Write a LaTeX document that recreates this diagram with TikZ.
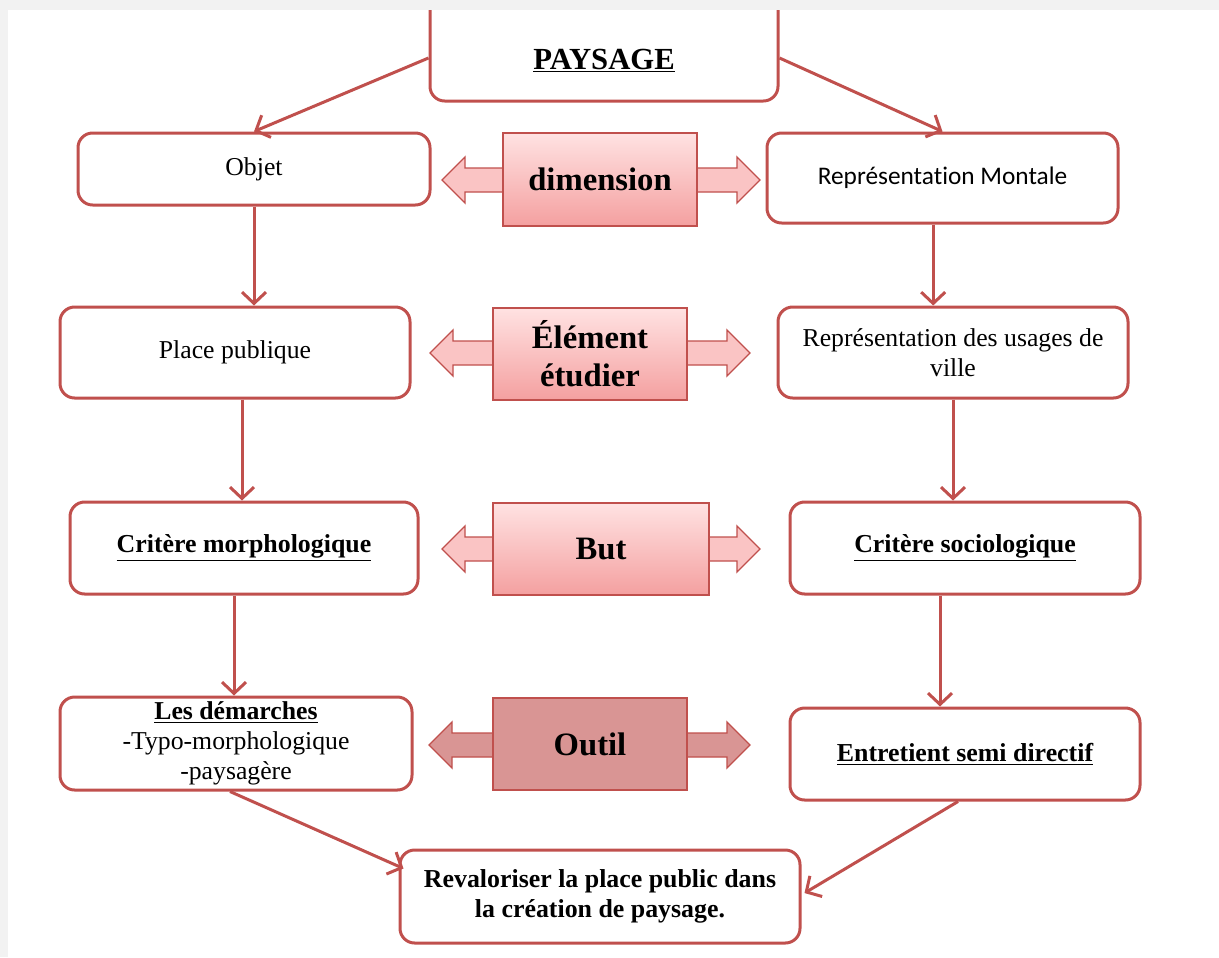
\documentclass[tikz,border=0pt]{standalone}
\usepackage{fontspec}
\setmainfont{Liberation Serif}
\newfontfamily\calibri[Ligatures=NoCommon]{Carlito}
\usetikzlibrary{arrows.meta}

\definecolor{mred}{RGB}{192, 80, 77}
\definecolor{mpin}{RGB}{250, 196, 196}
\definecolor{mtop}{RGB}{255, 226, 226}
\definecolor{mbot}{RGB}{244, 160, 160}
\definecolor{mdar}{RGB}{217, 149, 148}

\tikzset{
	box/.style={draw=mred, line width=2.25pt, rounded corners=11pt, fill=white,
			align=center, inner sep=0pt, font=\fontsize{19.3}{22.5}\selectfont},
	bbox/.style={box, font=\bfseries\fontsize{19.4}{22.5}\selectfont},
	tag/.style={draw=mred, line width=1pt, top color=mtop, bottom color=mbot,
			align=center, inner sep=0pt, font=\bfseries\fontsize{24.5}{28.5}\selectfont},
	link/.style={draw=mred, line width=2.25pt, -{Straight Barb[length=8.5pt,width=18pt]}},
}

\begin{document}
\begin{tikzpicture}[x=0.75pt, y=-0.75pt]
	\useasboundingbox (0,0) rectangle (1219,957);

	% --- Top ---
	\node[bbox, font=\bfseries\fontsize{23}{26}\selectfont, text height=36pt, text depth=0pt,
		minimum width=261pt, minimum height=84pt] (paysage) at (604,45) {\underline{PAYSAGE}};

	% --- Left column ---
	\node[box, minimum width=264pt, minimum height=54pt] (objet) at (254,169) {Objet};
	\node[box, minimum width=262.5pt, minimum height=68.25pt] (place) at (235,352.5) {Place publique};
	\node[bbox, minimum width=261pt, minimum height=69pt] (morpho) at (244,548) {\underline{Critère morphologique}};
	\node[box, minimum width=264pt, minimum height=69.75pt] (demarches) at (236,743.5)
		{\textbf{\underline{Les démarches}}\\-Typo-morphologique\\-paysagère};

	% --- Right column ---
	\node[box, font=\calibri\fontsize{19}{23}\selectfont, minimum width=263.25pt, minimum height=67.5pt]
		(montale) at (942.5,178) {Représentation Montale};
	\node[box, minimum width=262.5pt, minimum height=68.25pt] (usages) at (953,352.5)
		{Représentation des usages de\\ville};
	\node[bbox, minimum width=262.5pt, minimum height=69pt] (socio) at (965,548) {\underline{Critère sociologique}};
	\node[bbox, minimum width=262.5pt, minimum height=69pt] (entretient) at (965,754) {\underline{Entretient semi directif}};

	% --- Bottom ---
	\node[bbox, minimum width=300pt, minimum height=69.75pt] (revalor) at (600,896.5)
		{Revaloriser la place public dans\\la création de paysage.};

	% --- Double arrows ---
	\foreach \yc/\xl/\xr/\col in {180/442/760/mpin, 353/430/750/mpin, 549/442/760/mpin, 745/429/750/mdar} {
			\draw[mred, line width=1pt, fill=\col] (\xl,\yc) -- ++(23,-23) -- ++(0,11) -- (\xr-23,\yc-12)
				-- ++(0,-11) -- (\xr,\yc) -- ++(-23,23) -- ++(0,-11) -- (\xl+23,\yc+12) -- ++(0,11) -- cycle;
		}
	\node[tag, minimum width=145.5pt, minimum height=69.75pt] (dim) at (600,179.5) {dimension};
	\node[tag, minimum width=145.5pt, minimum height=69pt] (element) at (590,354) {Élément\\étudier};
	\node[tag, minimum width=162pt, minimum height=69pt] (but) at (601,549) {But};
	\node[tag, top color=mdar, bottom color=mdar, minimum width=145.5pt, minimum height=69pt]
		(outil) at (590,744) {Outil};

	% --- Links ---
	\draw[link] ([yshift=-9.75pt]paysage.west) -- (objet.north);
	\draw[link] ([yshift=-9.75pt]paysage.east) -- (montale.north);
	\draw[link] (objet.south) -- (objet.south |- place.north);
	\draw[link] ([xshift=-7pt]montale.south) -- ([xshift=-7pt]montale.south |- usages.north);
	\draw[link] ([xshift=5.25pt]place.south) -- ([xshift=5.25pt]place.south |- morpho.north);
	\draw[link] (usages.south) -- (usages.south |- socio.north);
	\draw[link] ([xshift=-7.5pt]morpho.south) -- ([xshift=-7.5pt]morpho.south |- demarches.north);
	\draw[link] ([xshift=-18.75pt]socio.south) -- ([xshift=-18.75pt]socio.south |- entretient.north);
	\draw[link] ([xshift=-4.5pt]demarches.south) -- ([xshift=3.75pt,yshift=21pt]revalor.west);
	\draw[link] ([xshift=-5.25pt]entretient.south) -- ([xshift=2.25pt,yshift=2.6pt]revalor.east);

	% --- Frame ---
	\fill[black!5] (0,0) rectangle (1219,10);
	\fill[black!5] (0,10) rectangle (8,957);

\end{tikzpicture}
\end{document}
